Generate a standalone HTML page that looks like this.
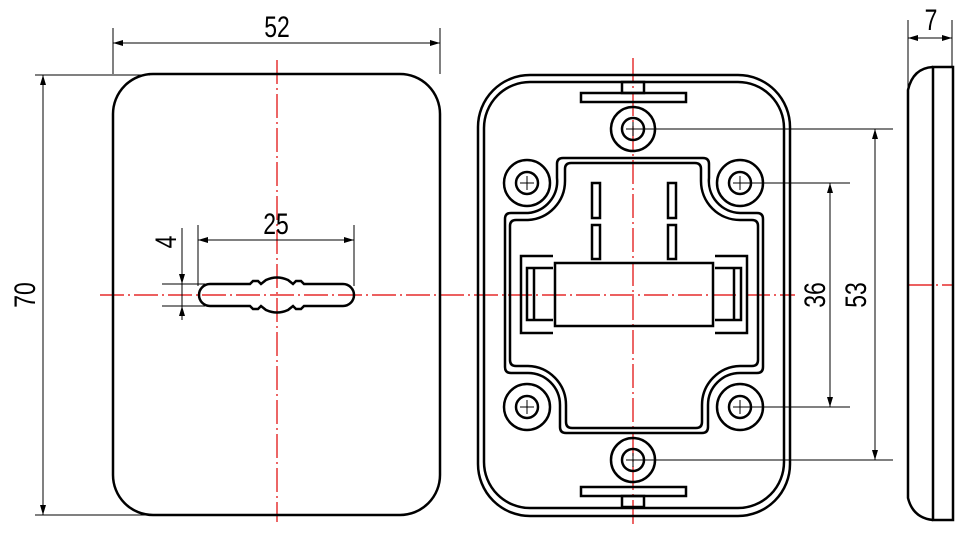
<!DOCTYPE html>
<html><head><meta charset="utf-8"><style>
html,body{margin:0;padding:0;background:#fff;}
svg{display:block;}
text{font-family:"Liberation Sans","Noto Sans CJK SC",sans-serif;font-size:27px;fill:#000;}
</style></head><body>
<svg width="966" height="542" viewBox="0 0 966 542" xmlns="http://www.w3.org/2000/svg">
<defs>
<marker id="a" viewBox="0 0 10 6" refX="10" refY="3" markerWidth="10" markerHeight="6" orient="auto-start-reverse" markerUnits="userSpaceOnUse"><path d="M0,0 L10,3 L0,6 Z" fill="#000"/></marker>
</defs>
<g stroke="#e00000" stroke-width="1.2" stroke-dasharray="24,4,2,4" fill="none">
<line x1="100" y1="295" x2="795" y2="295"/>
<line x1="277" y1="60" x2="277" y2="522"/>
<line x1="633" y1="58" x2="633" y2="525"/>
<line x1="908" y1="285" x2="954" y2="285"/>
</g>
<g fill="none" stroke="#000" stroke-width="2.5">
<rect x="113" y="74" width="327" height="441" rx="40"/>
<path d="M210,284 H250 L253,281 L258,281 L261,284 L266,280 Q277,275 288,280 L293,284 L296,281 L301,281 L304,284 H343 A11,11 0 0 1 343,306 H304 L301,309 L296,309 L293,306 L288,310 Q277,315 266,310 L261,306 L258,309 L253,309 L250,306 H210 A11,11 0 0 1 210,284 Z"/>
</g>
<g stroke="#000" stroke-width="1" fill="none">
<line x1="113" y1="28" x2="113" y2="74"/><line x1="440" y1="28" x2="440" y2="74"/>
<line x1="113" y1="43" x2="440" y2="43" marker-start="url(#a)" marker-end="url(#a)"/>
<line x1="35" y1="75" x2="150" y2="75"/><line x1="35" y1="515" x2="150" y2="515"/>
<line x1="43" y1="75" x2="43" y2="515" marker-start="url(#a)" marker-end="url(#a)"/>
<line x1="198" y1="225" x2="198" y2="286"/><line x1="354" y1="225" x2="354" y2="286"/>
<line x1="198" y1="240" x2="354" y2="240" marker-start="url(#a)" marker-end="url(#a)"/>
<line x1="162" y1="284" x2="205" y2="284"/><line x1="162" y1="306" x2="205" y2="306"/>
<line x1="182" y1="228" x2="182" y2="284" marker-end="url(#a)"/>
<line x1="182" y1="320" x2="182" y2="306" marker-end="url(#a)"/>
<line x1="182" y1="284" x2="182" y2="306"/>
</g>
<text transform="translate(277,37) scale(0.85,1.1)" text-anchor="middle">52</text>
<text transform="translate(276,234) scale(0.85,1.1)" text-anchor="middle">25</text>
<text transform="translate(35,295) rotate(-90) scale(0.85,1.1)" text-anchor="middle">70</text>
<text transform="translate(176,242) rotate(-90) scale(0.85,1.1)" text-anchor="middle">4</text>
<g fill="none" stroke="#000" stroke-width="2.5">
<rect x="478" y="75" width="312" height="441" rx="52"/>
<rect x="484" y="82" width="300" height="426" rx="46"/>
<rect x="581" y="93" width="105" height="9"/>
<rect x="622" y="82" width="22" height="11"/>
<rect x="581" y="487" width="105" height="9"/>
<rect x="622" y="496" width="22" height="11"/>
<path d="M563,158 H703 Q709,158 709,164 V178 A32,32 0 0 0 740,213 H757 Q763,213 763,219 V367 Q763,373 757,373 H740 A32,32 0 0 0 708,405 V427 Q708,433 702,433 H566 Q560,433 560,427 V405 A32,32 0 0 0 528,373 H511 Q505,373 505,367 V219 Q505,213 511,213 H528 A32,32 0 0 0 557,178 V164 Q557,158 563,158 Z"/>
<path d="M571,163 H695 Q701,163 701,169 V181 A39,39 0 0 0 740,220 H752 Q758,220 758,226 V360 Q758,366 752,366 H740 A39,39 0 0 0 702,405 V422 Q702,428 696,428 H572 Q566,428 566,422 V405 A39,39 0 0 0 528,366 H516 Q510,366 510,360 V226 Q510,220 516,220 H528 A39,39 0 0 0 565,181 V169 Q565,163 571,163 Z"/>
<rect x="592" y="183" width="8" height="35"/><rect x="592" y="225" width="8" height="34"/>
<rect x="668" y="183" width="8" height="35"/><rect x="668" y="225" width="8" height="34"/>
<rect x="555" y="263" width="158" height="63"/>
<path d="M553,256 H521 V333 H553 M553,268 H527 V320 H553 M534,268 V320"/>
<path d="M715,256 H747 V333 H715 M715,268 H741 V320 H715 M734,268 V320"/>
<circle cx="633" cy="129" r="22"/><circle cx="633" cy="129" r="11"/>
<circle cx="633" cy="460" r="22"/><circle cx="633" cy="460" r="11"/>
<circle cx="527" cy="183" r="23"/><circle cx="527" cy="183" r="11"/>
<circle cx="740" cy="183" r="23"/><circle cx="740" cy="183" r="11"/>
<circle cx="527" cy="407" r="23"/><circle cx="527" cy="407" r="11"/>
<circle cx="740" cy="407" r="23"/><circle cx="740" cy="407" r="11"/>
</g>
<g stroke="#000" stroke-width="1" fill="none">
<path d="M626,129 H640 M633,122 V136 M626,460 H640 M633,453 V467 M520,183 H534 M527,176 V190 M733,183 H747 M740,176 V190 M520,407 H534 M527,400 V414 M733,407 H747 M740,400 V414"/>
<line x1="633" y1="129" x2="893" y2="129"/><line x1="633" y1="460" x2="893" y2="460"/>
<line x1="740" y1="183" x2="850" y2="183"/><line x1="740" y1="407" x2="850" y2="407"/>
<line x1="830" y1="183" x2="830" y2="407" marker-start="url(#a)" marker-end="url(#a)"/>
<line x1="875" y1="129" x2="875" y2="460" marker-start="url(#a)" marker-end="url(#a)"/>
<line x1="908" y1="20" x2="908" y2="90"/><line x1="952" y1="20" x2="952" y2="67"/>
<line x1="908" y1="38" x2="952" y2="38" marker-start="url(#a)" marker-end="url(#a)"/>
</g>
<text transform="translate(825,295) rotate(-90) scale(0.85,1.1)" text-anchor="middle">36</text>
<text transform="translate(866,295) rotate(-90) scale(0.85,1.1)" text-anchor="middle">53</text>
<text transform="translate(931,30) scale(0.85,1.1)" text-anchor="middle">7</text>
<g fill="none" stroke="#000" stroke-width="2.5">
<rect x="933" y="67" width="20" height="453"/>
<path d="M933,67 Q913,68 908,90 V498 Q913,518 933,520"/>
</g>
</svg>
</body></html>
